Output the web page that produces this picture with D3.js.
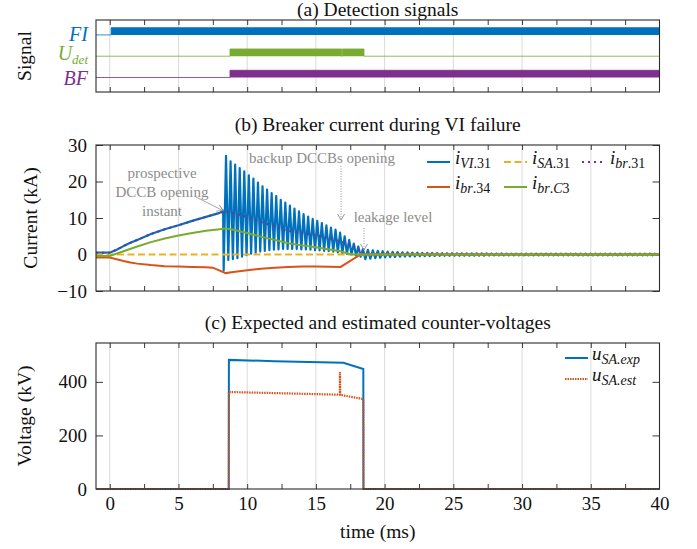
<!DOCTYPE html>
<html>
<head>
<meta charset="utf-8">
<script src="https://cdn.jsdelivr.net/npm/d3@7"></script>
<style>
  body { margin: 0; background: #fff; }
  svg { font-family: "Liberation Serif", "Times New Roman", serif; }
</style>
</head>
<body>
<svg id="chart" width="697" height="549"></svg>
<script>
// ---- data ----
const timeTicks = [0, 5, 10, 15, 20, 25, 30, 35, 40];
const gridTimes = [0, 5, 10, 15, 20, 25, 30, 35];
const minorTimes = [0, 2.5, 5, 7.5, 10, 12.5, 15, 17.5, 20, 22.5, 25, 27.5, 30, 32.5, 35, 37.5];

// (a) detection signals, [time ms, 0/1]
const fiSignal = [[-1, 0], [0.1, 1], [40, 1]];
const udetSignal = [[-1, 0], [8.75, 1], [16.88, 0], [16.93, 1], [18.5, 0], [40, 0]];
const bfSignal = [[-1, 0], [8.75, 1], [40, 1]];

// (b) breaker currents, kA
const vi31Ramp = [[-1, 0.5], [0, 0.5], [0.5, 1.3], [1, 2.3], [1.5, 3.2], [2, 4.0], [3, 5.6], [4, 6.9],
  [5, 8.0], [6, 9.2], [7, 10.3], [8, 11.4], [8.25, 12.0]];
const vi31Dip = [8.29, -4.4];
const vi31PeakStart = 8.46, vi31Period = 0.332;
const vi31Peaks = [27, 25.5, 24.6, 23.7, 22.8, 21.7, 20.8, 19.7, 18.7, 17.8, 16.8, 16.0, 15.0, 14.2, 13.4,
  12.6, 11.8, 11.1, 10.4, 9.8, 9.2, 8.6, 8.0, 7.4, 6.8, 6.0, 5.0, 4.0, 3.0, 2.2, 1.5];
const vi31Troughs = [-1.5, -1.3, -1.0, -0.6, -0.2, 0.2, 0.5, 0.8, 1.0, 1.2, 1.3, 1.4, 1.5, 1.5, 1.5,
  1.5, 1.4, 1.4, 1.3, 1.2, 1.1, 1.0, 0.9, 0.8, 0.6, 0.4, 0.2, 0.0, -0.3, -0.6];
const vi31TailPeriod = 0.36;
const vi31TailAmp = [1.3, 1.15, 1.0, 0.9, 0.8, 0.72, 0.66, 0.6, 0.56, 0.52, 0.49, 0.46, 0.43, 0.41, 0.39,
  0.37, 0.35, 0.34, 0.33, 0.32, 0.31, 0.3, 0.3, 0.29, 0.29, 0.28, 0.28, 0.28, 0.27, 0.27,
  0.27, 0.26, 0.26, 0.26, 0.26, 0.25, 0.25, 0.25, 0.25, 0.25, 0.24, 0.24, 0.24, 0.24, 0.24,
  0.23, 0.23, 0.23, 0.23, 0.23, 0.22, 0.22, 0.22, 0.22, 0.22, 0.22, 0.22, 0.22, 0.22, 0.22];
const sa31 = [[-1, 0], [40, 0]];
const br31 = [[-1, 0.5], [0, 0.5], [0.5, 1.3], [1, 2.3], [1.5, 3.2], [2, 4.0], [3, 5.6], [4, 6.9],
  [5, 8.0], [6, 9.2], [7, 10.3], [8, 11.4], [8.4, 11.9], [8.65, 11.6], [10, 10.3], [11, 8.9], [12, 7.7],
  [12.8, 6.6], [14.25, 5.7], [15.7, 4.8], [17, 3.4], [17.9, 2.0], [18.3, 0.6], [18.6, 0], [40, 0]];
const br34 = [[-1, -0.8], [0, -0.8], [0.5, -1.3], [1, -1.8], [1.5, -2.2], [2, -2.5], [3, -2.9], [4, -3.2],
  [5, -3.3], [6, -3.4], [7, -3.5], [7.5, -3.6], [8.44, -5.1], [9, -4.8], [10, -4.3], [11, -3.9], [12, -3.6],
  [13, -3.4], [14, -3.3], [15, -3.3], [16, -3.35], [16.8, -3.4], [18.25, 0], [40, 0]];
const brC3 = [[-1, -0.4], [0, -0.4], [1, 0.9], [2, 2.2], [3, 3.4], [4, 4.4], [5, 5.2], [6, 5.9], [7, 6.5],
  [8, 6.9], [8.45, 7.1], [9, 6.8], [10, 5.9], [11, 4.9], [12, 4.0], [13, 3.1], [14, 2.5], [15, 2.0],
  [16, 1.4], [16.8, 0.9], [17.5, 0.1], [18, 0], [40, 0]];

// (c) counter-voltages, kV
const uExp = [[-1, 0], [8.66, 0], [8.67, 482], [12, 477], [17.0, 471], [18.45, 448], [18.46, 0], [40, 0]];
const uEst = [[-1, 0], [8.66, 0], [8.67, 362], [12, 358], [16.74, 352], [16.75, 437], [16.77, 352],
  [17.0, 349], [18.45, 336], [18.46, 0], [40, 0]];

// ---- layout ----
const FONT = '"Liberation Serif", "Times New Roman", serif';
const C = { blue: '#0072BD', orange: '#D95319', yellow: '#EDB120', purple: '#7E2F8E', green: '#77AC30' };
const svg = d3.select('#chart');
const x = d3.scaleLinear().domain([-1, 40]).range([96, 659.5]);
const pa = { top: 20, bottom: 92 }, pb = { top: 145, bottom: 291 }, pc = { top: 343, bottom: 489 };
const yA = d3.scaleLinear().domain([-0.68, 2.7]).range([pa.bottom, pa.top]);
const yB = d3.scaleLinear().domain([-10, 30]).range([pb.bottom, pb.top]);
const yC = d3.scaleLinear().domain([0, 545]).range([pc.bottom, pc.top]);

// build the oscillating VI current from the read peaks/troughs
function buildVi31() {
  const pts = vi31Ramp.slice();
  pts.push(vi31Dip);
  let t = vi31PeakStart;
  vi31Peaks.forEach((p, k) => {
    t = vi31PeakStart + k * vi31Period;
    if (k > 0) pts.push([t - vi31Period / 2, vi31Troughs[k - 1]]);
    pts.push([t, p]);
  });
  vi31TailAmp.forEach((a, j) => {
    const t0 = t + j * vi31TailPeriod;
    pts.push([t0 + vi31TailPeriod / 2, -a]);
    pts.push([t0 + vi31TailPeriod, a]);
  });
  return pts.filter(d => d[0] <= 40);
}

function frame(panel, yScale, yTicks, showLabels) {
  const g = svg.append('g');
  // vertical grid
  g.selectAll('line.grid').data(gridTimes).enter().append('line')
    .attr('x1', d => x(d)).attr('x2', d => x(d))
    .attr('y1', panel.top).attr('y2', panel.bottom)
    .attr('stroke', '#dadada').attr('stroke-width', 1);

  const ax = svg.append('g').attr('color', '#3a3a3a');
  ax.append('g').attr('transform', `translate(0,${panel.bottom})`)
    .call(d3.axisBottom(x).tickValues(minorTimes).tickSize(-5).tickFormat(''));
  ax.append('g').attr('transform', `translate(0,${panel.top})`)
    .call(d3.axisTop(x).tickValues(minorTimes).tickSize(-5).tickFormat(''));
  if (yScale && yTicks) {
    ax.append('g').attr('transform', `translate(${x(-1)},0)`)
      .call(d3.axisLeft(yScale).tickValues(yTicks).tickSize(-7).tickPadding(9)
        .tickFormat(d => d < 0 ? '\u2212' + Math.abs(d) : d));
    ax.append('g').attr('transform', `translate(${x(40)},0)`)
      .call(d3.axisRight(yScale).tickValues(yTicks).tickSize(-7).tickFormat(''));
  }
  if (showLabels) {
    ax.append('g').attr('transform', `translate(0,${panel.bottom})`)
      .call(d3.axisBottom(x).tickValues(timeTicks).tickSize(0).tickFormat(d3.format('d')))
      .selectAll('text').attr('y', 21).attr('dy', 0);
  }
  ax.selectAll('.domain').remove();
  ax.selectAll('text').attr('font-family', FONT).attr('font-size', 19).attr('fill', '#111');
  return g;
}

function clipFor(id, panel) {
  svg.append('clipPath').attr('id', id).append('rect')
    .attr('x', x(-1)).attr('y', panel.top - 1)
    .attr('width', x(40) - x(-1)).attr('height', panel.bottom - panel.top + 2);
  return svg.append('g').attr('clip-path', `url(#${id})`);
}

function box(panel) {
  svg.append('rect').attr('x', x(-1)).attr('y', panel.top)
    .attr('width', x(40) - x(-1)).attr('height', panel.bottom - panel.top)
    .attr('fill', 'none').attr('stroke', '#2b2b2b').attr('stroke-width', 1.1);
}

function title(text, y) {
  svg.append('text').attr('x', (x(-1) + x(40)) / 2).attr('y', y)
    .attr('text-anchor', 'middle').attr('font-size', 19.5).attr('fill', '#111').text(text);
}

function yLabel(text, cx, cy) {
  svg.append('text').attr('transform', `translate(${cx},${cy}) rotate(-90)`)
    .attr('text-anchor', 'middle').attr('dy', '0.35em')
    .attr('font-size', 19.5).attr('fill', '#111').text(text);
}

// math-like label: italic base + subscript parts [[str, italic], ...]
function mathText(sel, base, subs, size, subSize, color) {
  const t = sel.attr('font-size', size).attr('fill', color || '#111');
  t.append('tspan').attr('font-style', 'italic').text(base);
  subs.forEach((s, i) => {
    const sp = t.append('tspan').attr('font-size', subSize)
      .attr('font-style', s[1] ? 'italic' : 'normal').text(s[0]);
    if (i === 0) sp.attr('dy', size * 0.22);
  });
  return t;
}

const line = (ys) => d3.line().x(d => x(d[0])).y(d => ys(d[1]));

// ---------- (a) detection signals ----------
frame(pa, null, null, false);
const ga = clipFor('clipA', pa);
const bandH = 0.34;
[[fiSignal, 2, C.blue], [udetSignal, 1, C.green], [bfSignal, 0, C.purple]].forEach(([sig, lvl, col]) => {
  ga.append('path').datum(sig)
    .attr('d', d3.area().curve(d3.curveStepAfter).x(d => x(d[0]))
      .y0(yA(lvl)).y1(d => yA(lvl + d[1] * bandH)))
    .attr('fill', col);
  ga.append('path').datum(sig)
    .attr('d', d3.line().curve(d3.curveStepAfter).x(d => x(d[0])).y(d => yA(lvl + d[1] * bandH)))
    .attr('fill', 'none').attr('stroke', col).attr('stroke-width', 1).attr('opacity', 0.8);
});
box(pa);
title('(a) Detection signals', 16);
yLabel('Signal', 24, (pa.top + pa.bottom) / 2);
mathText(svg.append('text').attr('x', 88).attr('y', yA(2) + 6.5).attr('text-anchor', 'end'),
  'FI', [], 20, 14, C.blue);
mathText(svg.append('text').attr('x', 88).attr('y', yA(1) + 3.5).attr('text-anchor', 'end'),
  'U', [['det', true]], 20, 13, C.green);
mathText(svg.append('text').attr('x', 88).attr('y', yA(0) + 7).attr('text-anchor', 'end'),
  'BF', [], 20, 14, C.purple);

// ---------- (b) breaker current ----------
frame(pb, yB, [-10, 0, 10, 20, 30], false);
const gb = clipFor('clipB', pb);
gb.append('path').datum(buildVi31()).attr('d', line(yB))
  .attr('fill', 'none').attr('stroke', C.blue).attr('stroke-width', 2.2).attr('stroke-linejoin', 'round');
gb.append('path').datum(sa31).attr('d', line(yB))
  .attr('fill', 'none').attr('stroke', C.yellow).attr('stroke-width', 2).attr('stroke-dasharray', '7,3.5');
gb.append('path').datum(br31).attr('d', line(yB))
  .attr('fill', 'none').attr('stroke', C.purple).attr('stroke-width', 2).attr('stroke-dasharray', '2,4');
gb.append('path').datum(br34).attr('d', line(yB))
  .attr('fill', 'none').attr('stroke', C.orange).attr('stroke-width', 2);
gb.append('path').datum(brC3).attr('d', line(yB))
  .attr('fill', 'none').attr('stroke', C.green).attr('stroke-width', 2);
box(pb);
title('(b) Breaker current during VI failure', 131);
yLabel('Current (kA)', 30, (pb.top + pb.bottom) / 2);

// annotations
const grey = '#8c8c8c';
const defs = svg.append('defs');
defs.append('marker').attr('id', 'arr').attr('viewBox', '-7 -4 8 8')
  .attr('markerWidth', 8).attr('markerHeight', 8).attr('orient', 'auto')
  .attr('markerUnits', 'userSpaceOnUse')
  .append('path').attr('d', 'M-6,-3.5L0,0L-6,3.5').attr('fill', 'none')
  .attr('stroke', grey).attr('stroke-width', 0.9);
const ann = svg.append('g').attr('font-size', 15).attr('fill', grey).attr('text-anchor', 'middle');
[['prospective', 178], ['DCCB opening', 197], ['instant', 216]].forEach(([s, yy]) =>
  ann.append('text').attr('x', 162).attr('y', yy).text(s));
ann.append('line').attr('x1', 196).attr('y1', 197).attr('x2', x(8.25)).attr('y2', yB(12))
  .attr('stroke', grey).attr('stroke-width', 0.8).attr('marker-end', 'url(#arr)');
ann.append('text').attr('x', 322).attr('y', 163).text('backup DCCBs opening');
ann.append('line').attr('x1', x(16.83)).attr('y1', 166).attr('x2', x(16.83)).attr('y2', 220)
  .attr('stroke', grey).attr('stroke-width', 0.9).attr('stroke-dasharray', '1,1.5').attr('marker-end', 'url(#arr)');
ann.append('text').attr('x', 393).attr('y', 222).text('leakage level');
ann.append('line').attr('x1', x(18.5)).attr('y1', 228).attr('x2', x(18.5)).attr('y2', 250)
  .attr('stroke', grey).attr('stroke-width', 0.9).attr('stroke-dasharray', '1,1.5').attr('marker-end', 'url(#arr)');

// legend (b)
const legB = [
  { col: C.blue, dash: null, base: 'i', sub: [['VI', true], ['.31', false]], x: 427, y: 162 },
  { col: C.yellow, dash: '7,3.5', base: 'i', sub: [['SA', true], ['.31', false]], x: 504, y: 162 },
  { col: C.purple, dash: '2,4', base: 'i', sub: [['br', true], ['.31', false]], x: 582, y: 162 },
  { col: C.orange, dash: null, base: 'i', sub: [['br', true], ['.34', false]], x: 427, y: 187 },
  { col: C.green, dash: null, base: 'i', sub: [['br', true], ['.', false], ['C', true], ['3', false]], x: 504, y: 187 }
];
legB.forEach(l => {
  svg.append('line').attr('x1', l.x).attr('x2', l.x + 23).attr('y1', l.y).attr('y2', l.y)
    .attr('stroke', l.col).attr('stroke-width', 2).attr('stroke-dasharray', l.dash);
  mathText(svg.append('text').attr('x', l.x + 28).attr('y', l.y + 2), l.base, l.sub, 19, 14);
});

// ---------- (c) counter-voltages ----------
frame(pc, yC, [0, 200, 400], true);
const gc = clipFor('clipC', pc);
gc.append('path').datum(uExp).attr('d', line(yC))
  .attr('fill', 'none').attr('stroke', C.blue).attr('stroke-width', 2);
gc.append('path').datum(uEst).attr('d', line(yC))
  .attr('fill', 'none').attr('stroke', C.orange).attr('stroke-width', 2.2).attr('stroke-dasharray', '1.5,1');
box(pc);
title('(c) Expected and estimated counter-voltages', 329);
yLabel('Voltage (kV)', 24, (pc.top + pc.bottom) / 2);
svg.append('text').attr('x', (x(-1) + x(40)) / 2).attr('y', 538).attr('text-anchor', 'middle')
  .attr('font-size', 19.5).attr('fill', '#111').text('time (ms)');

const legC = [
  { col: C.blue, dash: null, sub: [['SA.exp', true]], y: 358 },
  { col: C.orange, dash: '1.5,1', sub: [['SA.est', true]], y: 379 }
];
legC.forEach(l => {
  svg.append('line').attr('x1', 565).attr('x2', 588).attr('y1', l.y).attr('y2', l.y)
    .attr('stroke', l.col).attr('stroke-width', 2).attr('stroke-dasharray', l.dash);
  mathText(svg.append('text').attr('x', 592).attr('y', l.y + 2), 'u', l.sub, 19, 14);
});
</script>
</body>
</html>
